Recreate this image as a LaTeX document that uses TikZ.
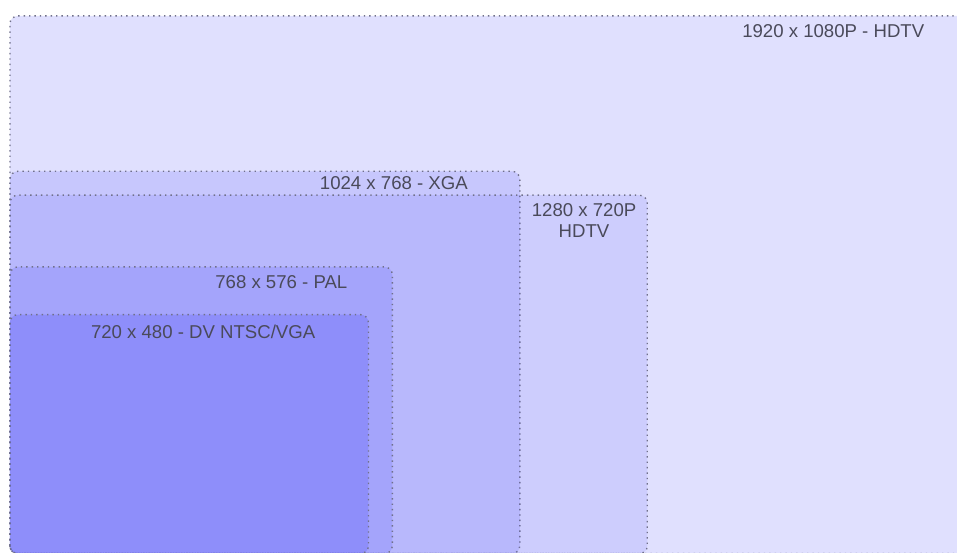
\documentclass[tikz,border=0pt]{standalone}
\usepackage{fontspec}
\setmainfont{Liberation Sans}
\usepackage{xcolor}
\usepackage{tikz}
\usetikzlibrary{positioning}
\definecolor{ink}{HTML}{4A4A5A}
\definecolor{edge}{HTML}{70708A}
\definecolor{screenblue}{HTML}{6464FA}
\tikzset{
  screen/.style={draw=edge, dotted, line width=.7pt, rounded corners=4, fill=screenblue, fill opacity=#1},
  res/.style={font=\fontsize{9.3}{10.5}\selectfont, text=ink, inner sep=0pt, align=center}
}

\begin{document}
\begin{tikzpicture}[x=0.249pt,y=0.249pt]
  \useasboundingbox (-20,2) rectangle (1902,1112);
  \fill[white] (-20,2) rectangle (1902,1112);
  % the frames, all from the lower left corner
  \draw[screen=.20] (0,0) rectangle (1920,1080);
  \draw[screen=.20] (0,0) rectangle (1024,768);
  \draw[screen=.15] (0,0) rectangle (1280,720);
  \draw[screen=.23] (0,0) rectangle (768,576);
  \draw[screen=.34] (0,0) rectangle (720,480);
  \node[res,anchor=east] (hdfull) at (1837,1050) {1920 x 1080P - HDTV};
  \node[res] (xga) at (771,744) {1024 x 768 - XGA};
  \node[res] (hdhalf) at (1153,669) {1280 x 720P\\HDTV};
  \node[res] (pal) at (545,546) {768 x 576 - PAL};
  \node[res] (ntsc) at (388,446) {720 x 480 - DV NTSC/VGA};
\end{tikzpicture}
\end{document}
